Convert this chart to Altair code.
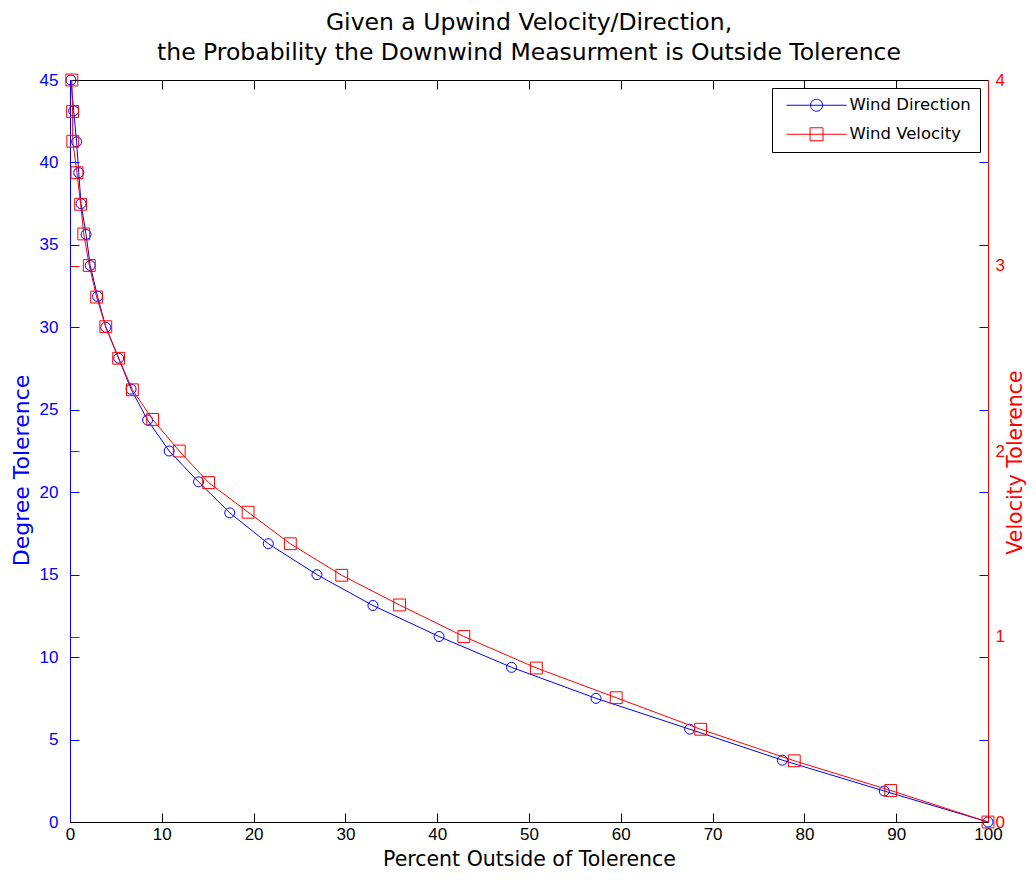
import altair as alt
import pandas as pd

# Tolerance levels (left axis: degrees, right axis: velocity)
deg_levels = [45.0, 43.13, 41.25, 39.38, 37.5, 35.63, 33.75, 31.88, 30.0, 28.13,
              26.25, 24.38, 22.5, 20.63, 18.75, 16.88, 15.0, 13.13, 11.25, 9.38,
              7.5, 5.63, 3.75, 1.88, 0.0]
vel_levels = [4.0, 3.83, 3.67, 3.5, 3.33, 3.17, 3.0, 2.83, 2.67, 2.5,
              2.33, 2.17, 2.0, 1.83, 1.67, 1.5, 1.33, 1.17, 1.0, 0.83,
              0.67, 0.5, 0.33, 0.17, 0.0]
# Percent outside of tolerance
dir_pct = [0.1, 0.4, 0.72, 0.95, 1.2, 1.75, 2.2, 3.0, 3.9, 5.3,
           6.65, 8.45, 10.8, 14.0, 17.4, 21.6, 26.9, 33.0, 40.2, 48.1,
           57.3, 67.5, 77.6, 88.7, 100.0]
vel_pct = [0.2, 0.28, 0.3, 0.76, 1.16, 1.5, 2.1, 2.9, 3.9, 5.3,
           6.8, 9.0, 11.9, 15.1, 19.4, 24.0, 29.6, 35.9, 42.9, 50.8,
           59.5, 68.7, 78.9, 89.4, 100.0]

series_names = ["Wind Direction", "Wind Velocity"]
series_colors = ["#0000ff", "#ff0000"]
x_ticks = [0, 10, 20, 30, 40, 50, 60, 70, 80, 90, 100]
deg_ticks = [0, 5, 10, 15, 20, 25, 30, 35, 40, 45]
vel_ticks = [0, 1, 2, 3, 4]

W, H = 918, 742
TK = 9  # inward tick length
FONT = "Liberation Sans"
TFONT = "DejaVu Sans"

dir_df = pd.DataFrame({"pct": dir_pct, "y": deg_levels, "series": series_names[0]})
vel_df = pd.DataFrame({"pct": vel_pct, "y": vel_levels, "series": series_names[1]})
leg_df = pd.concat([dir_df, vel_df], ignore_index=True)

xscale = alt.Scale(domain=[0, 100], nice=False)
deg_scale = alt.Scale(domain=[0, 45], nice=False, zero=True)
vel_scale = alt.Scale(domain=[0, 4], nice=False, zero=True)

x_bottom = alt.X("pct:Q", scale=xscale, axis=alt.Axis(
    orient="bottom", values=x_ticks, title="Percent Outside of Tolerence",
    domain=True, domainColor="black", domainWidth=1, ticks=False,
    grid=True, gridColor="black", gridWidth=1, gridDash=[TK, H - 2 * TK, TK, 3000],
    labelColor="black", labelFont=FONT, labelFontSize=17, labelPadding=4,
    labelFlush=False, labelOverlap=False,
    titleFont=TFONT, titleFontSize=20.5, titleFontWeight="normal", titleColor="black",
    titlePadding=7))
x_top = alt.X("pct:Q", scale=xscale, axis=alt.Axis(
    orient="top", values=x_ticks, title=None, domain=True, domainColor="black",
    domainWidth=1, ticks=False, labels=False, grid=False))
x_plain = alt.X("pct:Q", scale=xscale, axis=None)

y_deg = alt.Y("y:Q", scale=deg_scale, axis=alt.Axis(
    orient="left", values=deg_ticks, title="Degree Tolerence",
    domain=True, domainColor="#0000ff", domainWidth=1, ticks=False,
    grid=True, gridColor="#0000ff", gridWidth=1, gridDash=[TK, W - 2 * TK, TK, 3000],
    labelColor="#0000ff", labelFont=FONT, labelFontSize=17, labelPadding=12,
    labelFlush=False, labelOverlap=False,
    titleColor="#0000ff", titleFont=TFONT, titleFontSize=22, titleFontWeight="normal",
    titlePadding=6, titleY=390))
y_vel = alt.Y("y:Q", scale=vel_scale, axis=alt.Axis(
    orient="right", values=vel_ticks, title="Velocity Tolerence",
    domain=True, domainColor="#ff0000", domainWidth=1, ticks=False,
    grid=True, gridColor="#ff0000", gridWidth=1, gridDash=[0, W - TK, TK, 3000],
    labelColor="#ff0000", labelFont=FONT, labelFontSize=17, labelPadding=7,
    labelFlush=False, labelOverlap=False,
    titleColor="#ff0000", titleFont=TFONT, titleFontSize=20.5, titleFontWeight="normal",
    titleAngle=270, titlePadding=21, titleY=382))

dir_line = alt.Chart(dir_df).mark_line(color="#0000ff", strokeWidth=1).encode(
    x=x_bottom, y=y_deg)
dir_pts = alt.Chart(dir_df).mark_point(
    shape="circle", filled=False, color="#0000ff", size=100, strokeWidth=1, opacity=1
).encode(x=x_top, y=alt.Y("y:Q", scale=deg_scale, axis=None))
vel_line = alt.Chart(vel_df).mark_line(color="#ff0000", strokeWidth=1).encode(
    x=x_plain, y=y_vel)
vel_pts = alt.Chart(vel_df).mark_point(
    shape="square", filled=False, color="#ff0000", size=140, strokeWidth=1, opacity=1
).encode(x=x_plain, y=alt.Y("y:Q", scale=vel_scale, axis=None))

circ_path = "M-0.45,0L9.55,0M3.55,0A1,1,0,1,0,5.55,0A1,1,0,1,0,3.55,0"
sq_path = "M-0.45,0L9.55,0M3.47,-1.08L5.63,-1.08L5.63,1.08L3.47,1.08Z"

leg = alt.Legend(title=None, orient="top-right", offset=8,
                 symbolSize=144, symbolStrokeWidth=1, symbolOpacity=1,
                 labelFont=TFONT, labelFontSize=16.5, labelColor="black",
                 labelOffset=52, padding=9, rowPadding=11,
                 strokeColor="black", fillColor="white", cornerRadius=0)

legend_layer = alt.Chart(leg_df).mark_point(filled=False, opacity=0, size=144).encode(
    x=x_plain,
    y=alt.Y("y:Q", axis=None),
    color=alt.Color("series:N", scale=alt.Scale(domain=series_names, range=series_colors),
                    legend=leg),
    shape=alt.Shape("series:N", scale=alt.Scale(domain=series_names, range=[circ_path, sq_path]),
                    legend=leg),
)

chart = alt.layer(dir_line, dir_pts, vel_line, vel_pts, legend_layer).resolve_scale(
    y="independent"
).resolve_axis(
    y="independent", x="independent"
).properties(
    width=W, height=H,
    title=alt.TitleParams(
        ["Given a Upwind Velocity/Direction,",
         "the Probability the Downwind Measurment is Outside Tolerence"],
        font=TFONT, fontSize=23.5, fontWeight="normal", color="black",
        anchor="middle", lineHeight=30, offset=7),
    padding={"left": 62, "top": 72, "right": 40, "bottom": 50},
    autosize=alt.AutoSizeParams(type="none"),
).configure_view(stroke=None).configure(background="white")

chart.save("out.html", embed_options={"renderer": "svg", "actions": False})
